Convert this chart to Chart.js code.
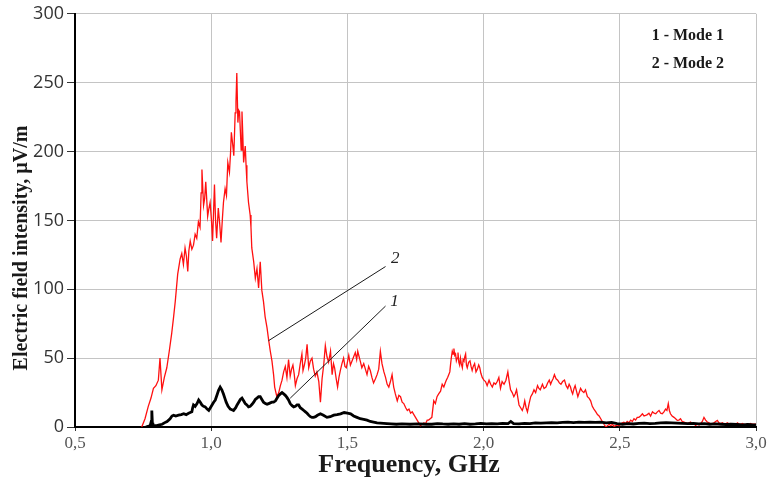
<!DOCTYPE html>
<html>
<head>
<meta charset="utf-8">
<script src="https://cdn.jsdelivr.net/npm/chart.js@4.4.1/dist/chart.umd.min.js"></script>
<style>
  body { margin: 0; background: #fff; }
  #contenedor { width: 772px; height: 482px; }
</style>
</head>
<body>
<div id="contenedor"><canvas id="campoChart" width="772" height="482"></canvas></div>
<script>
// Modo 2 (rojo): frecuencia en GHz y campo en µV/m
const modo2Freq = [
    0.745,0.757,0.769,0.779,0.788,0.797,0.806,0.812,0.819,0.828,
    0.837,0.846,0.855,0.862,0.868,0.877,0.886,0.892,0.898,0.904,
    0.909,0.914,0.918,0.923,0.929,0.935,0.941,0.947,0.953,0.959,
    0.963,0.966,0.972,0.976,0.980,0.987,0.991,0.996,1.001,1.005,
    1.009,1.012,1.016,1.020,1.026,1.031,1.036,1.041,1.045,1.051,
    1.056,1.061,1.067,1.071,1.074,1.079,1.083,1.088,1.091,1.094,
    1.098,1.101,1.104,1.107,1.110,1.113,1.116,1.119,1.125,1.128,
    1.131,1.137,1.143,1.146,1.149,1.156,1.162,1.168,1.174,1.180,
    1.186,1.192,1.198,1.205,1.211,1.217,1.223,1.229,1.233,1.241,
    1.248,1.254,1.260,1.266,1.272,1.278,1.284,1.290,1.295,1.300,
    1.305,1.309,1.315,1.321,1.327,1.333,1.337,1.342,1.347,1.352,
    1.358,1.364,1.370,1.376,1.382,1.388,1.395,1.401,1.407,1.413,
    1.419,1.425,1.431,1.438,1.444,1.449,1.453,1.459,1.464,1.469,
    1.474,1.480,1.486,1.491,1.496,1.501,1.505,1.511,1.517,1.523,
    1.529,1.534,1.538,1.543,1.547,1.553,1.560,1.566,1.572,1.578,
    1.584,1.590,1.596,1.603,1.609,1.615,1.621,1.627,1.634,1.640,
    1.646,1.652,1.658,1.664,1.670,1.676,1.683,1.689,1.695,1.701,
    1.707,1.714,1.720,1.726,1.732,1.738,1.744,1.750,1.756,1.762,
    1.768,1.775,1.781,1.786,1.793,1.798,1.804,1.810,1.817,1.823,
    1.829,1.835,1.842,1.848,1.854,1.859,1.863,1.868,1.872,1.876,
    1.879,1.882,1.885,1.888,1.891,1.894,1.897,1.900,1.903,1.906,
    1.909,1.912,1.915,1.918,1.922,1.925,1.928,1.931,1.934,1.937,
    1.940,1.945,1.950,1.954,1.958,1.962,1.967,1.972,1.977,1.982,
    1.986,1.990,1.995,2.001,2.007,2.013,2.020,2.026,2.032,2.038,
    2.044,2.050,2.056,2.062,2.068,2.075,2.082,2.089,2.094,2.099,
    2.105,2.111,2.116,2.121,2.126,2.130,2.136,2.142,2.147,2.151,
    2.156,2.161,2.167,2.173,2.179,2.185,2.191,2.198,2.203,2.208,
    2.212,2.216,2.222,2.229,2.235,2.241,2.246,2.250,2.255,2.260,
    2.266,2.272,2.278,2.284,2.290,2.297,2.303,2.309,2.314,2.319,
    2.323,2.327,2.332,2.336,2.341,2.346,2.351,2.356,2.362,2.368,
    2.374,2.381,2.387,2.393,2.399,2.405,2.412,2.418,2.424,2.430,
    2.436,2.442,2.449,2.455,2.461,2.467,2.473,2.479,2.485,2.491,
    2.497,2.503,2.509,2.515,2.521,2.527,2.533,2.540,2.546,2.552,
    2.558,2.564,2.570,2.576,2.583,2.589,2.595,2.601,2.607,2.613,
    2.620,2.626,2.632,2.638,2.644,2.650,2.656,2.662,2.668,2.673,
    2.678,2.682,2.686,2.692,2.699,2.705,2.711,2.717,2.723,2.729,
    2.736,2.742,2.748,2.754,2.760,2.766,2.772,2.778,2.785,2.791,
    2.797,2.803,2.809,2.815,2.821,2.828,2.834,2.840,2.846,2.852,
    2.858,2.864,2.870,2.877,2.883,2.889,2.895,2.901,2.907,2.913,
    2.919,2.926,2.932,2.938,2.944,2.950,2.956,2.962,2.968,2.974,
    2.980,2.986,2.993,3.000
];
const modo2Campo = [
    0,6,15,21,28,30,34,50,27,36,
    43,55,68,80,91,111,122,126,118,130,
    124,113,128,135,129,132,140,137,149,145,
    170,187,161,166,178,153,158,163,150,135,
    158,176,150,137,159,148,134,151,163,173,
    168,192,185,199,214,205,197,228,236,257,
    221,230,229,215,201,229,212,192,204,190,
    178,163,154,145,130,120,108,115,101,120,
    99,91,80,72,63,55,48,38,29,22,
    25,30,34,40,44,36,49,37,42,45,
    38,30,35,38,46,53,41,45,50,60,
    43,48,50,42,37,40,33,18,35,45,
    59,51,47,55,38,46,43,35,29,36,
    41,46,50,44,43,48,52,45,48,51,
    54,49,55,51,48,43,46,42,38,44,
    41,36,32,35,38,42,55,46,40,36,
    31,29,33,38,29,24,19,23,22,18,
    17,14,12,13,10,11,9,7,5,3,
    1,2,3,2,5,5,6,7,19,17,
    22,24,26,31,29,32,34,36,38,40,
    46,51,55,53,57,52,53,48,50,54,
    47,45,50,46,43,49,48,51,53,45,
    43,47,48,44,41,44,46,40,42,45,
    43,39,36,34,33,30,34,31,29,32,
    31,33,36,28,33,31,34,40,33,27,
    25,22,24,27,21,16,14,12,15,19,
    14,11,17,22,24,27,25,30,28,27,
    29,31,28,29,32,34,31,33,35,38,
    35,34,32,31,33,34,30,28,31,29,
    26,24,28,30,26,22,25,28,26,25,
    27,22,21,19,15,13,11,9,8,6,
    4,2,0,1,2,1,2,0.5,1,1.5,
    1,2,3,3.5,2.5,4,3,5,4,6,
    5,7,7,8,9.6,8,8.4,9,10,8,
    11,10,9.6,11,12,10,9.6,11,13,12,
    17,12,9.6,8,7,6,4.8,5,6,4,
    3.6,3,2.4,3,3.6,2,2.5,1.2,2,1.5,
    2.4,4,7,5,3.6,3,2,2.4,3,4,
    4.8,3,2.4,3,2,2.5,3,2,2.5,2,
    2.4,2,3,2,2,2.5,2,1.5,2.4,2,
    2.5,2,2,2
];

// Modo 1 (negro)
const modo1Freq = [
    0.760,0.776,0.780,0.782,0.784,0.786,0.800,0.810,0.820,0.828,
    0.838,0.849,0.856,0.862,0.870,0.880,0.890,0.899,0.908,0.917,
    0.923,0.929,0.932,0.935,0.941,0.948,0.954,0.960,0.966,0.972,
    0.978,0.985,0.991,0.997,1.003,1.009,1.015,1.021,1.027,1.033,
    1.039,1.045,1.050,1.055,1.062,1.070,1.076,1.082,1.090,1.095,
    1.101,1.107,1.113,1.119,1.125,1.131,1.137,1.143,1.150,1.156,
    1.162,1.168,1.174,1.180,1.186,1.192,1.199,1.205,1.211,1.217,
    1.223,1.229,1.236,1.242,1.248,1.254,1.260,1.266,1.272,1.278,
    1.284,1.290,1.297,1.303,1.309,1.315,1.321,1.327,1.334,1.340,
    1.346,1.352,1.358,1.364,1.370,1.376,1.383,1.390,1.401,1.412,
    1.425,1.437,1.450,1.462,1.475,1.488,1.500,1.512,1.523,1.535,
    1.547,1.560,1.572,1.584,1.596,1.609,1.621,1.633,1.645,1.660,
    1.680,1.700,1.730,1.760,1.790,1.810,1.830,1.850,1.870,1.890,
    1.910,1.930,1.950,1.970,1.990,2.010,2.030,2.050,2.070,2.090,
    2.100,2.110,2.130,2.150,2.170,2.190,2.210,2.230,2.250,2.270,
    2.290,2.310,2.330,2.350,2.370,2.390,2.410,2.430,2.450,2.470,
    2.490,2.510,2.530,2.550,2.570,2.590,2.610,2.630,2.650,2.670,
    2.690,2.710,2.730,2.750,2.770,2.790,2.810,2.830,2.850,2.870,
    2.890,2.910,2.930,2.950,2.970,2.990,3.000
];
const modo1Campo = [
    0,1,4,12,3,1,1,1.5,2,3,
    4,6,8,8.6,8,8.6,9,9.6,9,10,
    10.5,11,14,16,15,17,19.6,18,16,15,
    14.6,13,12,14,16,18,19.6,23,26.6,29,
    27,24,21,18,15,13,12.5,12,14,16,
    18,20,21,19,17,16,14.6,15,16.5,18,
    20,21,22,22,20,18,17,16.5,17,17.5,
    18,18,19,21,23,24,25,24,23,21.5,
    19.6,17,15.5,14.6,15,16,16,14,13,12,
    11,10,8.6,7.5,7,7,7.5,8.5,9.6,8.5,
    7,7.5,8.6,9,9.5,10.5,10,9.5,8,7,
    6,5.5,5,4,3.5,3,2.8,2.6,2.4,2.2,
    2,2.2,2,2.3,2,2,2.5,2.2,2,2.3,
    2,2.5,2,2.2,2.6,2.2,2.4,2.2,2.6,2.4,
    4,2.5,2.3,2.7,2.5,3,2.8,3,3.2,3,
    3.3,3.5,3.2,3.6,3.4,3.6,3.3,3.5,3,3.4,
    2.5,2,2.5,2.2,2.6,2.8,2.5,2.7,3,3.2,
    3,2.8,2.6,2.4,2.6,2.2,2.4,2,2.2,2,
    1.8,2,1.8,1.6,1.8,1.6,1.5
];

const ticksFreq = [0.5, 1.0, 1.5, 2.0, 2.5, 3.0];
const ticksCampo = [0, 50, 100, 150, 200, 250, 300];
const leyendaTextos = ['1 - Mode 1', '2 - Mode 2'];

// Numeros de curva con su linea indicadora (en unidades de datos)
const marcasCurva = [
    { texto: '2', punta: [1.210, 62.6], fin: [1.640, 116.5], pos: [1.676, 122] },
    { texto: '1', punta: [1.290, 20.9], fin: [1.640, 87.8], pos: [1.673, 91.4] }
];

function aPuntos(freqs, valores) {
    const n = Math.min(freqs.length, valores.length);
    if (freqs.length !== valores.length) console.warn('Longitudes distintas', freqs.length, valores.length);
    const puntos = [];
    for (let i = 0; i < n; i++) puntos.push({ x: freqs[i], y: valores[i] });
    return puntos;
}

const textosPlugin = {
    id: 'textos',
    afterDatasetsDraw(chart) {
        const { ctx, scales: { x, y } } = chart;
        ctx.save();

        // lineas indicadoras y numeros de curva
        ctx.strokeStyle = '#1a1a1a';
        ctx.lineWidth = 1;
        marcasCurva.forEach(m => {
            ctx.beginPath();
            ctx.moveTo(x.getPixelForValue(m.punta[0]), y.getPixelForValue(m.punta[1]));
            ctx.lineTo(x.getPixelForValue(m.fin[0]), y.getPixelForValue(m.fin[1]));
            ctx.stroke();
            ctx.font = 'italic 17px "Liberation Serif", serif';
            ctx.fillStyle = '#222';
            ctx.textAlign = 'center';
            ctx.textBaseline = 'middle';
            ctx.fillText(m.texto, x.getPixelForValue(m.pos[0]), y.getPixelForValue(m.pos[1]));
        });

        // leyenda dentro de la celda superior derecha
        ctx.font = 'bold 16px "Liberation Serif", serif';
        ctx.fillStyle = '#1a1a1a';
        ctx.textAlign = 'center';
        ctx.textBaseline = 'middle';
        const cx = (x.getPixelForValue(2.5) + x.getPixelForValue(3.0)) / 2;
        ctx.fillText(leyendaTextos[0], cx, y.getPixelForValue(284));
        ctx.fillText(leyendaTextos[1], cx, y.getPixelForValue(264));

        // titulos de ejes
        ctx.font = 'bold 26px "Liberation Serif", serif';
        ctx.fillText('Frequency, GHz', 409, 465);

        ctx.translate(22, 248);
        ctx.rotate(-Math.PI / 2);
        ctx.font = 'bold 20px "Liberation Serif", serif';
        ctx.fillText('Electric field intensity, µV/m', 0, 0);
        ctx.restore();
    }
};

const ctx = document.getElementById('campoChart').getContext('2d');
const campoChart = new Chart(ctx, {
    type: 'line',
    data: {
        datasets: [
            {
                label: 'Mode 2',
                data: aPuntos(modo2Freq, modo2Campo),
                borderColor: '#ff1010',
                borderWidth: 1.3,
                pointRadius: 0,
                tension: 0,
                order: 1
            },
            {
                label: 'Mode 1',
                data: aPuntos(modo1Freq, modo1Campo),
                borderColor: '#000',
                borderWidth: 2.8,
                pointRadius: 0,
                tension: 0,
                order: 0
            }
        ]
    },
    options: {
        responsive: false,
        animation: false,
        layout: { padding: { left: 0, right: 16, top: 10, bottom: 0 } },
        plugins: {
            legend: { display: false },
            tooltip: { enabled: false }
        },
        scales: {
            x: {
                type: 'linear',
                min: 0.5,
                max: 3.0,
                afterFit: s => { s.height = 55; },
                afterBuildTicks: s => { s.ticks = ticksFreq.map(v => ({ value: v })); },
                ticks: {
                    callback: v => v.toFixed(1).replace('.', ','),
                    font: { family: '"Liberation Serif", serif', size: 17 },
                    color: '#555',
                    padding: 2,
                    maxRotation: 0
                },
                grid: { color: '#c4c4c4', lineWidth: 1, tickLength: 4, tickColor: '#333' },
                border: { color: '#000', width: 2 }
            },
            y: {
                min: 0,
                max: 300,
                afterFit: s => { s.width = 75; },
                afterBuildTicks: s => { s.ticks = ticksCampo.map(v => ({ value: v })); },
                ticks: {
                    font: { family: '"Open Sans", "Liberation Sans", sans-serif', size: 18 },
                    color: '#333',
                    padding: 3
                },
                grid: { color: '#c4c4c4', lineWidth: 1, tickLength: 8, tickColor: '#333' },
                border: { color: '#000', width: 2 }
            }
        }
    },
    plugins: [textosPlugin]
});
</script>
</body>
</html>
